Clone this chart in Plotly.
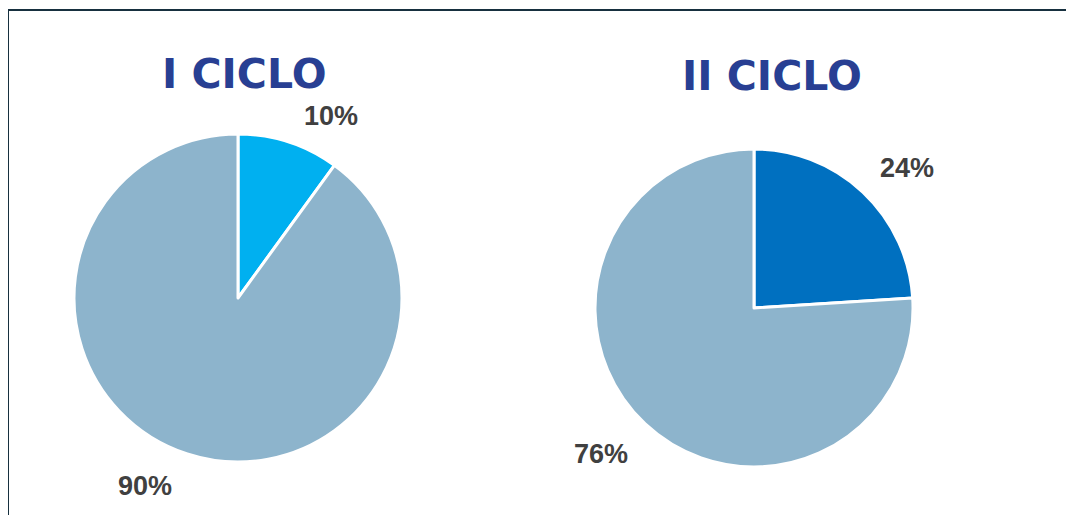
import math
import plotly.graph_objects as go

# data
ciclos = ["I CICLO", "II CICLO"]
categorias = ["Sí", "No"]
valores_i = [10, 90]
valores_ii = [24, 76]

W, H = 1074, 515
OFF = 8  # page body margin offset

fig = go.Figure()

# pie geometry in pixels (center x, center y, radius) + label placement (angle shift, radial factor)
pies = [
    (valores_i, ["#00b0f0", "#8db4cc"], (238 - OFF, 298 - OFF, 164), (8.7, 1.26)),
    (valores_ii, ["#0070c0", "#8db4cc"], (754 - OFF, 308 - OFF, 159), (3.7, 1.32)),
]

for vals, cols, (cx, cy, r), (shift, fac) in pies:
    fig.add_trace(go.Pie(
        labels=categorias,
        values=vals,
        sort=False,
        direction="clockwise",
        rotation=0,
        textinfo="none",
        hoverinfo="label+percent",
        marker=dict(colors=cols, line=dict(color="white", width=3)),
        domain=dict(x=[(cx - r) / W, (cx + r) / W],
                    y=[1 - (cy + r) / H, 1 - (cy - r) / H]),
        showlegend=False,
    ))
    # data labels outside the slices, placed from the slice mid-angles
    total = sum(vals)
    acc = 0
    for v in vals:
        mid = (acc + v / 2) / total * 360 + shift
        acc += v
        a = math.radians(mid)
        lx = cx + fac * r * math.sin(a)
        ly = cy - fac * r * math.cos(a)
        fig.add_annotation(
            x=lx / W, y=1 - ly / H, xref="paper", yref="paper",
            text=f"<b>{round(v / total * 100)}%</b>", showarrow=False,
            font=dict(family="Liberation Sans, Arial", size=27, color="#404040"),
            xanchor="center", yanchor="middle", yshift=-3,
        )

# titles
for name, (cx, ty) in zip(ciclos, [(244 - OFF, 74 - OFF), (772 - OFF, 76 - OFF)]):
    fig.add_annotation(
        x=cx / W, y=1 - ty / H, xref="paper", yref="paper",
        text=f"<b>{name}</b>", showarrow=False,
        font=dict(family="DejaVu Sans", size=41, color="#283f93"),
        xanchor="center", yanchor="middle",
    )

# frame (left and top edges)
fig.add_shape(type="path", xref="paper", yref="paper",
              path=f"M {(7 - OFF + 1) / W} 0 L {(7 - OFF + 1) / W} {1 - (10 - OFF) / H} L 1 {1 - (10 - OFF) / H}",
              line=dict(color="#17303f", width=2))

fig.update_layout(
    width=W, height=H,
    margin=dict(l=0, r=0, t=0, b=0),
    paper_bgcolor="white",
    plot_bgcolor="white",
)

fig.write_html("out.html")
